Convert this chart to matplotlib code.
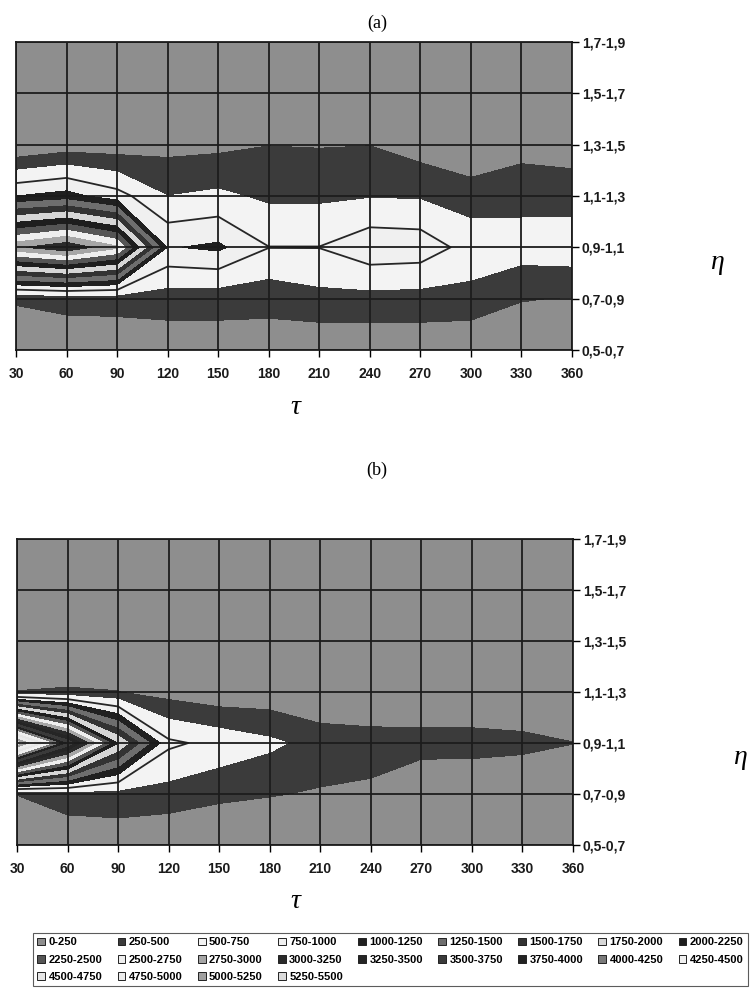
import numpy as np
import matplotlib
matplotlib.use('Agg')
import matplotlib.pyplot as plt
from matplotlib.patches import Patch

# grid of the surface chart
tau = [30, 60, 90, 120, 150, 180, 210, 240, 270, 300, 330, 360]
eta = [0.6, 0.8, 1.0, 1.2, 1.4, 1.6, 1.8]
eta_labels = ['0,5-0,7', '0,7-0,9', '0,9-1,1', '1,1-1,3', '1,3-1,5', '1,5-1,7', '1,7-1,9']

# chart (a), one list per eta row (lowest row first)
a_06 = [50, 100, 100, 91, 119, 115, 50, 59, 74, 21, 100, 100]
a_08 = [280, 320, 330, 365, 345, 333, 420, 413, 400, 416, 260, 240]
a_10 = [2950, 3200, 2800, 980, 1050, 755, 755, 923, 900, 650, 620, 650]
a_12 = [1000, 1100, 850, 500, 550, 450, 450, 480, 470, 380, 410, 390]
a_14 = [5, 107, 107, 167, 188, 245, 235, 245, 132, 19, 156, 126]
a_16 = [40, 45, 45, 50, 50, 55, 55, 55, 45, 40, 45, 45]
a_18 = [30, 30, 30, 35, 35, 35, 35, 35, 30, 30, 30, 30]

# chart (b)
b_06 = [50, 100, 100, 10, 10, 10, 10, 10, 10, 10, 10, 10]
b_08 = [255, 354, 383, 397, 305, 265, 226, 200, 30, 20, 10, 10]
b_10 = [5400, 3700, 2000, 800, 672, 553, 400, 362, 352, 352, 320, 255]
b_12 = [255, 270, 255, 155, 77, 87, 10, 10, 10, 10, 10, 10]
b_14 = [50, 60, 50, 40, 30, 20, 10, 10, 10, 10, 10, 10]
b_16 = [30, 30, 30, 20, 20, 10, 10, 10, 10, 10, 10, 10]
b_18 = [20, 20, 20, 10, 10, 10, 10, 10, 10, 10, 10, 10]

levels = [0, 250, 500, 750, 1000, 1250, 1500, 1750, 2000, 2250, 2500, 2750,
          3000, 3250, 3500, 3750, 4000, 4250, 4500, 4750, 5000, 5250, 5500]
# excel default surface palette, as it came out on the grey scan
band_colors = ['#8e8e8e', '#3b3b3b', '#f3f3f3', '#f0f0f0', '#202020', '#6e6e6e',
               '#333333', '#d6d6d6', '#1e1e1e', '#555555', '#eeeeee', '#a6a6a6',
               '#2a2a2a', '#252525', '#3a3a3a', '#222222', '#7a7a7a', '#f0f0f0',
               '#e6e6e6', '#ececec', '#a0a0a0', '#dadada']

W, H = 751., 990.
fig = plt.figure(figsize=(7.51, 9.90), dpi=100)


def surface(box, rows, title, title_y, eta_x):
    ax = fig.add_axes(box)
    z = np.array(rows)
    ax.contourf(tau, eta, z, levels=levels, colors=band_colors)
    ax.contour(tau, eta, z, levels=[750], colors='#262626', linewidths=1.3)
    ax.set_xlim(30, 360)
    ax.set_ylim(0.6, 1.8)
    ax.set_xticks(tau)
    ax.set_yticks(eta)
    ax.set_yticklabels(eta_labels)
    ax.yaxis.tick_right()
    ax.tick_params(axis='x', direction='out', length=5, width=1, pad=7, labelsize=10)
    ax.tick_params(axis='y', direction='out', length=5, width=1, pad=2, labelsize=10)
    for lab in ax.get_xticklabels() + ax.get_yticklabels():
        lab.set_fontfamily('Liberation Sans')
        lab.set_fontweight('bold')
        lab.set_color('#1a1a1a')
    ax.set_axisbelow(False)
    ax.grid(True, color='#1c1c1c', linewidth=1.3)
    for s in ax.spines.values():
        s.set_color('#1c1c1c')
        s.set_linewidth(1.3)
    fig.text(377 / W, 1 - title_y / H, title, ha='center', va='center',
             family='Liberation Serif', fontsize=13)
    x0, y0 = box[0], box[1]
    fig.text(295 / W, y0 - 57 / H, 'τ', ha='center', va='center',
             family='Liberation Serif', style='italic', fontsize=20)
    fig.text(eta_x / W, y0 + box[3] * 0.285, 'η', ha='center', va='center',
             family='Liberation Serif', style='italic', fontsize=20)
    return ax


surface([16 / W, 1 - 350 / H, 556 / W, 308 / H],
        [a_06, a_08, a_10, a_12, a_14, a_16, a_18], '(a)', 23, 717)
surface([17 / W, 1 - 845 / H, 556 / W, 306 / H],
        [b_06, b_08, b_10, b_12, b_14, b_16, b_18], '(b)', 470, 740)

# legend, excel fills it row by row, matplotlib column by column
handles = [Patch(facecolor=band_colors[i], edgecolor='#222222', linewidth=0.7,
                 label='%d-%d' % (levels[i], levels[i + 1])) for i in range(len(band_colors))]
ncol = 9
order = []
for c in range(ncol):
    for r in range(3 if c < 4 else 2):
        order.append(r * ncol + c)
leg = fig.legend([handles[i] for i in order], [handles[i].get_label() for i in order],
                 loc='upper left', bbox_to_anchor=(33 / W, 0, 715 / W, 1 - 933 / H),
                 mode='expand', ncol=ncol, borderaxespad=0, frameon=True, fancybox=False,
                 handlelength=0.7, handleheight=0.7, handletextpad=0.3, labelspacing=0.65,
                 borderpad=0.4, prop={'family': 'Liberation Sans', 'weight': 'bold', 'size': 8})
leg.get_frame().set_edgecolor('#333333')
leg.get_frame().set_linewidth(0.8)

fig.savefig('out.png', dpi=100)
plt.close('all')
